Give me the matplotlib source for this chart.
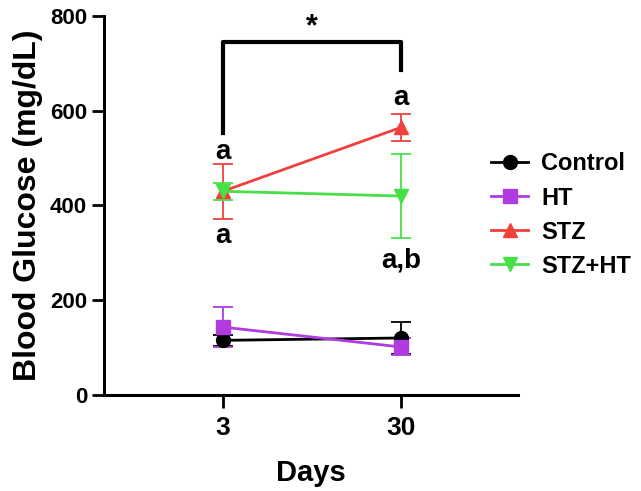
import matplotlib
matplotlib.use("Agg")
import matplotlib.pyplot as plt
from matplotlib.lines import Line2D

plt.rcParams['font.family'] = ['Liberation Sans', 'DejaVu Sans']
plt.rcParams['font.weight'] = 'bold'

days = ['3', '30']
groups = ['Control', 'HT', 'STZ', 'STZ+HT']
colors = ['black', '#b03ce0', '#f0403c', '#48e048']
markers = ['o', 's', '^', 'v']
means = [[115, 120], [143, 101], [430, 565], [430, 420]]
errs = [[12, 33], [43, 18], [58, 28], [18, 88]]

fig = plt.figure(figsize=(6.41, 4.91), dpi=100)
ax = fig.add_axes([0.162, 0.196, 0.646, 0.771])
x = [0, 1]
handles = []
for g, c, m, mu, e in zip(groups, colors, markers, means, errs):
    ax.errorbar(x, mu, yerr=e, color=c, marker=m, markersize=10, lw=2,
                elinewidth=1.3, capsize=7, capthick=1.3)
    handles.append(Line2D([], [], color=c, marker=m, markersize=10, lw=2, label=g))

ax.set_xlim(-0.669, 1.657)
ax.set_ylim(0, 800)
ax.set_xticks(x)
ax.set_xticklabels(days)
ax.set_yticks([0, 200, 400, 600, 800])
ax.tick_params(width=2, length=9)
ax.tick_params(axis='x', labelsize=19, pad=6)
ax.tick_params(axis='y', labelsize=16, pad=3)
for lab in ax.get_xticklabels() + ax.get_yticklabels():
    lab.set_fontweight('bold')
for s in ['top', 'right']:
    ax.spines[s].set_visible(False)
for s in ['left', 'bottom']:
    ax.spines[s].set_linewidth(2.2)
ax.set_xlabel('Days', fontsize=21, fontweight='bold', labelpad=14)
ax.set_ylabel('Blood Glucose (mg/dL)', fontsize=23, fontweight='bold', labelpad=5)

# significance bracket
ax.plot([0, 0, 1, 1], [553, 745, 745, 686], color='black', lw=3, clip_on=False)
ax.text(0.5, 745, '*', ha='center', va='bottom', fontsize=22, fontweight='bold')

# letters
ax.text(0, 512, 'a', ha='center', va='center', fontsize=20, fontweight='bold')
ax.text(0, 335, 'a', ha='center', va='center', fontsize=20, fontweight='bold')
ax.text(1, 627, 'a', ha='center', va='center', fontsize=20, fontweight='bold')
ax.text(1, 283, 'a,b', ha='center', va='center', fontsize=20, fontweight='bold')

fig.legend(handles=handles, loc='center left', bbox_to_anchor=(0.766, 0.562), frameon=False,
           prop={'size': 17, 'weight': 'bold'}, labelspacing=0.47, handlelength=1.57,
           handletextpad=0.55, borderpad=0, borderaxespad=0)

fig.savefig('out.png', dpi=100)
